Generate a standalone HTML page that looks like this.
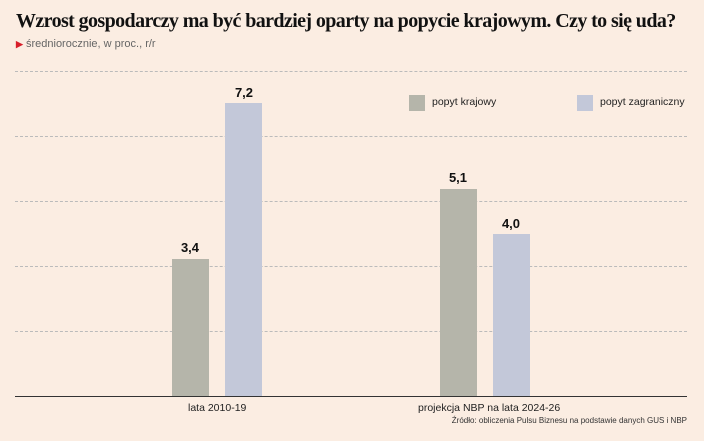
<!DOCTYPE html>
<html><head><meta charset="utf-8"><style>
body{margin:0;width:704px;height:441px;background:#fbede2;position:relative;overflow:hidden;font-family:"Liberation Sans",sans-serif}
.t{position:absolute;left:16px;top:10px;font-family:"Liberation Serif",serif;font-weight:bold;font-size:20px;color:#111;letter-spacing:-0.6px;white-space:nowrap}
.s{position:absolute;left:16px;top:38px;font-size:11px;color:#666}
.s b{color:#d81e2a;font-size:9px}
.g{position:absolute;left:15px;width:672px;border-top:1px dashed #bbb}
.bar{position:absolute;width:37px}
.k{background:#b5b5aa}.z{background:#c3c8d9}
.v{position:absolute;width:60px;text-align:center;font-weight:bold;font-size:13px;color:#111}
.l{position:absolute;font-size:10.5px;color:#222;white-space:nowrap}
</style></head><body>
<div class="t">Wzrost gospodarczy ma być bardziej oparty na popycie krajowym. Czy to się uda?</div>
<div class="s"><b>▶</b> średniorocznie, w proc., r/r</div>
<div class="g" style="top:71px"></div><div class="g" style="top:136px"></div><div class="g" style="top:201px"></div><div class="g" style="top:266px"></div><div class="g" style="top:331px"></div>
<div style="position:absolute;left:15px;top:396px;width:672px;height:1px;background:#333"></div>
<div class="bar k" style="left:172px;top:259px;height:137px"></div>
<div class="bar z" style="left:225px;top:103px;height:293px"></div>
<div class="bar k" style="left:440px;top:189px;height:207px"></div>
<div class="bar z" style="left:493px;top:234px;height:162px"></div>
<div class="v" style="left:160px;top:240px">3,4</div>
<div class="v" style="left:214px;top:85px">7,2</div>
<div class="v" style="left:428px;top:170px">5,1</div>
<div class="v" style="left:481px;top:216px">4,0</div>
<div class="bar k" style="left:409px;top:95px;width:16px;height:16px"></div>
<div class="l" style="left:432px;top:96px">popyt krajowy</div>
<div class="bar z" style="left:577px;top:95px;width:16px;height:16px"></div>
<div class="l" style="left:600px;top:96px">popyt zagraniczny</div>
<div class="l" style="left:188px;top:402px">lata 2010-19</div>
<div class="l" style="left:418px;top:402px">projekcja NBP na lata 2024-26</div>
<div class="l" style="right:17px;top:416px;font-size:8px;color:#333">Źródło: obliczenia Pulsu Biznesu na podstawie danych GUS i NBP</div>
</body></html>
